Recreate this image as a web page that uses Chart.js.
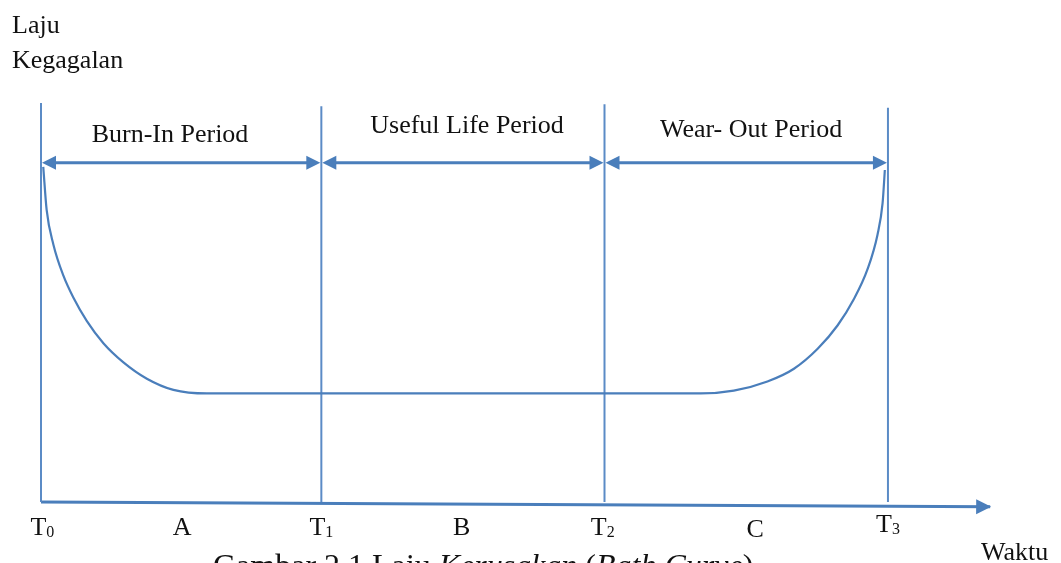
<!DOCTYPE html>
<html lang="id">
<head>
<meta charset="UTF-8">
<title>Bath Curve</title>
<style>
  html, body { margin: 0; padding: 0; background: #fff; }
  canvas { display: block; }
</style>
</head>
<body>
<canvas id="bathCurve" width="1061" height="563"></canvas>

<script src="https://cdn.jsdelivr.net/npm/chart.js"></script>
<script>
// posisi batas periode (satuan waktu) dan tinggi garis vertikal
const batasT = [0, 0.993, 1.996, 3.0];
const tinggiGaris = [10, 9.92, 9.97, 9.88];

// kurva laju kegagalan (bath curve)
const kurvaX = [0.008, 0.020, 0.044, 0.079, 0.115, 0.162, 0.221, 0.292, 0.375, 0.469, 0.588,
                2.337, 2.454, 2.573, 2.667, 2.751, 2.822, 2.879, 2.928, 2.963, 2.981, 2.989];
const kurvaY = [8.40, 7.32, 6.45, 5.68, 5.12, 4.54, 3.98, 3.50, 3.09, 2.81, 2.72,
                2.72, 2.79, 3.02, 3.34, 3.84, 4.43, 5.08, 5.84, 6.70, 7.49, 8.32];

// sumbu waktu (agak miring di gambar asli)
const sumbuX = [0, 3.362];
const sumbuY = [0, -0.12];

// label periode
const namaPeriode = ['Burn-In Period', 'Useful Life Period', 'Wear- Out Period'];
const tengahPeriode = [0.457, 1.509, 2.515];
const yPeriode = [9.02, 9.25, 9.15];
const yPanah = 8.5;

// label bawah
const labelBawah = ['T', 'A', 'T', 'B', 'T', 'C', 'T'];
const subBawah = ['0', '', '1', '', '2', '', '3'];
const xBawah = [0.005, 0.5, 0.993, 1.49, 1.99, 2.53, 3.0];
const yBawah = [-0.83, -0.83, -0.83, -0.83, -0.83, -0.88, -0.75];

const biru = '#4a7ebb';
const biruMuda = '#5b8bc6';
const serif = '"Liberation Serif", "Times New Roman", serif';

const datasets = [{
  data: kurvaX.map((x, i) => ({ x: x, y: kurvaY[i] })),
  borderColor: biru,
  borderWidth: 2.2,
  pointRadius: 0,
  cubicInterpolationMode: 'monotone',
  clip: false
}];

batasT.forEach((t, i) => {
  datasets.push({
    data: [{ x: t, y: 0 }, { x: t, y: tinggiGaris[i] }],
    borderColor: biruMuda,
    borderWidth: 2,
    pointRadius: 0,
    tension: 0,
    clip: false
  });
});

datasets.push({
  data: sumbuX.map((x, i) => ({ x: x, y: sumbuY[i] })),
  borderColor: biru,
  borderWidth: 3,
  pointRadius: 0,
  tension: 0,
  clip: false
});

function segitiga(ctx, tipX, tipY, arah, panjang, lebar) {
  // arah: sudut dalam radian menuju ujung
  const bx = tipX - Math.cos(arah) * panjang;
  const by = tipY - Math.sin(arah) * panjang;
  const nx = -Math.sin(arah) * lebar / 2;
  const ny = Math.cos(arah) * lebar / 2;
  ctx.beginPath();
  ctx.moveTo(tipX, tipY);
  ctx.lineTo(bx + nx, by + ny);
  ctx.lineTo(bx - nx, by - ny);
  ctx.closePath();
  ctx.fill();
}

const dekorasi = {
  id: 'dekorasi',
  beforeDraw(chart) {
    const ctx = chart.ctx;
    ctx.save();
    ctx.fillStyle = '#fff';
    ctx.fillRect(0, 0, chart.width, chart.height);
    ctx.restore();
  },
  afterDatasetsDraw(chart) {
    const ctx = chart.ctx;
    const sx = chart.scales.x;
    const sy = chart.scales.y;
    ctx.save();

    // panah periode
    ctx.strokeStyle = biru;
    ctx.fillStyle = biru;
    ctx.lineWidth = 3;
    const py = sy.getPixelForValue(yPanah);
    for (let i = 0; i < batasT.length - 1; i++) {
      const a = sx.getPixelForValue(batasT[i]) + 1;
      const b = sx.getPixelForValue(batasT[i + 1]) - 1;
      ctx.beginPath();
      ctx.moveTo(a + 10, py);
      ctx.lineTo(b - 10, py);
      ctx.stroke();
      segitiga(ctx, a, py, Math.PI, 14, 14);
      segitiga(ctx, b, py, 0, 14, 14);
    }

    // kepala panah sumbu waktu
    const x0 = sx.getPixelForValue(sumbuX[0]), y0 = sy.getPixelForValue(sumbuY[0]);
    const x1 = sx.getPixelForValue(sumbuX[1]), y1 = sy.getPixelForValue(sumbuY[1]);
    segitiga(ctx, x1 + 1, y1, Math.atan2(y1 - y0, x1 - x0), 15, 15);

    // teks
    ctx.fillStyle = '#111';
    ctx.textBaseline = 'alphabetic';
    ctx.font = '26px ' + serif;
    ctx.textAlign = 'center';
    namaPeriode.forEach((n, i) => {
      ctx.fillText(n, sx.getPixelForValue(tengahPeriode[i]), sy.getPixelForValue(yPeriode[i]));
    });

    labelBawah.forEach((l, i) => {
      ctx.font = '26px ' + serif;
      const wU = ctx.measureText(l).width;
      ctx.font = '16px ' + serif;
      const wS = subBawah[i] ? ctx.measureText(subBawah[i]).width : 0;
      const kiri = sx.getPixelForValue(xBawah[i]) - (wU + wS) / 2;
      const by = sy.getPixelForValue(yBawah[i]);
      ctx.textAlign = 'left';
      ctx.font = '26px ' + serif;
      ctx.fillText(l, kiri, by);
      if (subBawah[i]) {
        ctx.font = '16px ' + serif;
        ctx.fillText(subBawah[i], kiri + wU, by + 2);
      }
    });

    ctx.textAlign = 'left';
    ctx.font = '26px ' + serif;
    ctx.fillText('Laju', 12, 33);
    ctx.fillText('Kegagalan', 12, 68);
    ctx.fillText('Waktu', 981, 560);

    // keterangan gambar (terpotong di bawah)
    const bagian = [
      ['Gambar 2.1 Laju ', false],
      ['Kerusakan', true],
      [' (', false],
      ['Bath Curve', true],
      [')', false]
    ];
    let cx = 213;
    bagian.forEach(([t, miring]) => {
      ctx.font = (miring ? 'italic ' : '') + '32px ' + serif;
      ctx.fillText(t, cx, 576);
      cx += ctx.measureText(t).width;
    });

    ctx.restore();
  }
};

new Chart(document.getElementById('bathCurve'), {
  type: 'line',
  data: { datasets: datasets },
  options: {
    responsive: false,
    animation: false,
    layout: { padding: { left: 41, right: 70, top: 103, bottom: 61 } },
    plugins: { legend: { display: false }, tooltip: { enabled: false } },
    scales: {
      x: { type: 'linear', min: 0, max: 3.365, display: false },
      y: { type: 'linear', min: 0, max: 10, display: false }
    }
  },
  plugins: [dekorasi]
});
</script>
</body>
</html>
